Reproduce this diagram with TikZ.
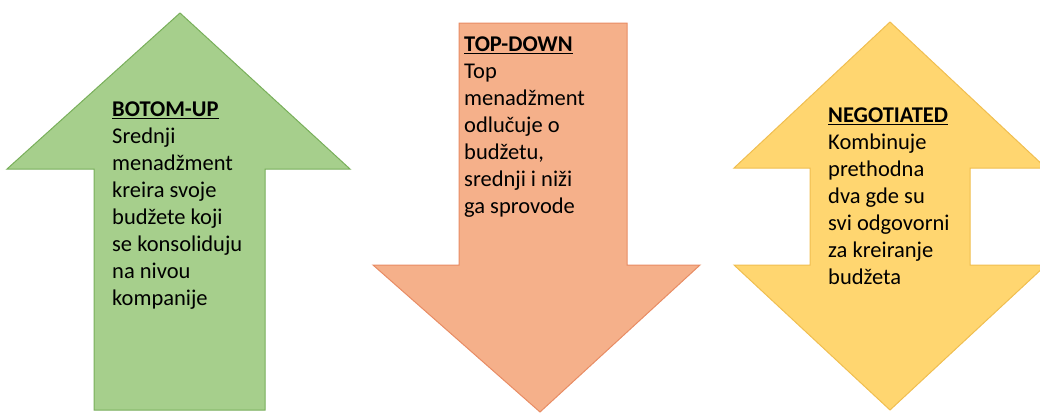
\documentclass[tikz,border=0pt]{standalone}
\usepackage{fontspec}
\setmainfont{Carlito}
\usepackage{tikz}
\usetikzlibrary{positioning}
\definecolor{upfill}{RGB}{166,207,140}
\definecolor{updraw}{RGB}{120,175,90}
\definecolor{downfill}{RGB}{245,176,138}
\definecolor{downdraw}{RGB}{232,140,100}
\definecolor{negfill}{RGB}{255,214,112}
\definecolor{negdraw}{RGB}{240,190,80}
\tikzset{
  arrowtext/.style={anchor=north west,inner sep=0pt,align=left,
    font=\fontsize{22.5}{27}\selectfont},
}
\begin{document}
\begin{tikzpicture}[x=1pt,y=-1pt]
      \useasboundingbox (0,0) rectangle (1040,415);
      \filldraw[fill=upfill,draw=updraw,line width=1pt]
        (180,13) -- (350,169) -- (265,169) -- (265,410) -- (94,410)
        -- (94,169) -- (7,169) -- cycle;
      \filldraw[fill=downfill,draw=downdraw,line width=1pt]
        (459,23) -- (627,23) -- (627,265) -- (700,265) -- (540,412)
        -- (373,265) -- (459,265) -- cycle;
      \filldraw[fill=negfill,draw=negdraw,line width=1pt]
        (890,22) -- (1046,168) -- (970,168) -- (970,265) -- (1046,265)
        -- (890,410) -- (734,265) -- (810,265) -- (810,168) -- (734,168) -- cycle;
      \node[arrowtext] (bottomup) at (112,102) {\underline{\textbf{BOTOM-UP}}\\
        Srednji\\ menadžment\\ kreira svoje\\ budžete koji\\ se konsoliduju\\
        na nivou\\ kompanije};
      \node[arrowtext] (topdown) at (464,37) {\underline{\textbf{TOP-DOWN}}\\
        Top\\ menadžment\\ odlučuje o\\ budžetu,\\ srednji i niži\\ ga sprovode};
      \node[arrowtext] (negotiated) at (828,108) {\underline{\textbf{NEGOTIATED}}\\
        Kombinuje\\ prethodna\\ dva gde su\\ svi odgovorni\\ za kreiranje\\ budžeta};
    \end{tikzpicture}
\end{document}
